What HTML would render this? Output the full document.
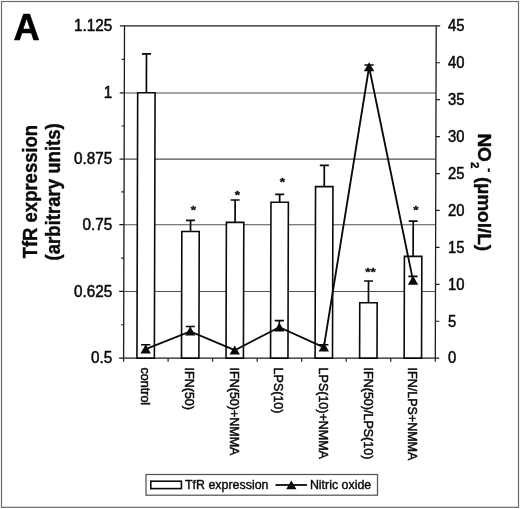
<!DOCTYPE html>
<html><head><meta charset="utf-8"><title>Figure A</title>
<style>html,body{margin:0;padding:0;background:#fff;}body{width:520px;height:509px;overflow:hidden;position:relative;}</style></head>
<body>
<svg width="520" height="509" viewBox="0 0 520 509" style="display:block;position:absolute;left:0;top:0;filter:blur(0.3px)">
<rect x="0" y="0" width="520" height="509" fill="#fff"/>
<rect x="1.5" y="1.5" width="517" height="505.8" fill="none" stroke="#6a6a6a" stroke-width="1.2"/>
<g transform="matrix(1,0,-0.0027,1,0.0698,0)">
<line x1="124.5" x2="436.2" y1="291.40" y2="291.40" stroke="#505050" stroke-width="1.05"/>
<line x1="124.5" x2="436.2" y1="224.70" y2="224.70" stroke="#505050" stroke-width="1.05"/>
<line x1="124.5" x2="436.2" y1="159.10" y2="159.10" stroke="#505050" stroke-width="1.05"/>
<line x1="124.5" x2="436.2" y1="92.90" y2="92.90" stroke="#505050" stroke-width="1.05"/>
<rect x="124.5" y="25.85" width="311.70" height="332.30" fill="none" stroke="#1c1c1c" stroke-width="1.3"/>
<line x1="119.9" x2="124.5" y1="358.15" y2="358.15" stroke="#1c1c1c" stroke-width="1.2"/>
<line x1="121.8" x2="124.5" y1="324.77" y2="324.77" stroke="#1c1c1c" stroke-width="1.2"/>
<line x1="119.9" x2="124.5" y1="291.40" y2="291.40" stroke="#1c1c1c" stroke-width="1.2"/>
<line x1="121.8" x2="124.5" y1="258.05" y2="258.05" stroke="#1c1c1c" stroke-width="1.2"/>
<line x1="119.9" x2="124.5" y1="224.70" y2="224.70" stroke="#1c1c1c" stroke-width="1.2"/>
<line x1="121.8" x2="124.5" y1="191.90" y2="191.90" stroke="#1c1c1c" stroke-width="1.2"/>
<line x1="119.9" x2="124.5" y1="159.10" y2="159.10" stroke="#1c1c1c" stroke-width="1.2"/>
<line x1="121.8" x2="124.5" y1="126.00" y2="126.00" stroke="#1c1c1c" stroke-width="1.2"/>
<line x1="119.9" x2="124.5" y1="92.90" y2="92.90" stroke="#1c1c1c" stroke-width="1.2"/>
<line x1="121.8" x2="124.5" y1="59.38" y2="59.38" stroke="#1c1c1c" stroke-width="1.2"/>
<line x1="119.9" x2="124.5" y1="25.85" y2="25.85" stroke="#1c1c1c" stroke-width="1.2"/>
<line x1="436.2" x2="440.2" y1="358.15" y2="358.15" stroke="#1c1c1c" stroke-width="1.2"/>
<line x1="436.2" x2="440.2" y1="321.23" y2="321.23" stroke="#1c1c1c" stroke-width="1.2"/>
<line x1="436.2" x2="440.2" y1="284.31" y2="284.31" stroke="#1c1c1c" stroke-width="1.2"/>
<line x1="436.2" x2="440.2" y1="247.38" y2="247.38" stroke="#1c1c1c" stroke-width="1.2"/>
<line x1="436.2" x2="440.2" y1="210.46" y2="210.46" stroke="#1c1c1c" stroke-width="1.2"/>
<line x1="436.2" x2="440.2" y1="173.54" y2="173.54" stroke="#1c1c1c" stroke-width="1.2"/>
<line x1="436.2" x2="440.2" y1="136.62" y2="136.62" stroke="#1c1c1c" stroke-width="1.2"/>
<line x1="436.2" x2="440.2" y1="99.69" y2="99.69" stroke="#1c1c1c" stroke-width="1.2"/>
<line x1="436.2" x2="440.2" y1="62.77" y2="62.77" stroke="#1c1c1c" stroke-width="1.2"/>
<line x1="436.2" x2="440.2" y1="25.85" y2="25.85" stroke="#1c1c1c" stroke-width="1.2"/>
<line x1="124.50" x2="124.50" y1="358.15" y2="361.75" stroke="#1c1c1c" stroke-width="1.2"/>
<line x1="169.03" x2="169.03" y1="358.15" y2="361.75" stroke="#1c1c1c" stroke-width="1.2"/>
<line x1="213.56" x2="213.56" y1="358.15" y2="361.75" stroke="#1c1c1c" stroke-width="1.2"/>
<line x1="258.09" x2="258.09" y1="358.15" y2="361.75" stroke="#1c1c1c" stroke-width="1.2"/>
<line x1="302.61" x2="302.61" y1="358.15" y2="361.75" stroke="#1c1c1c" stroke-width="1.2"/>
<line x1="347.14" x2="347.14" y1="358.15" y2="361.75" stroke="#1c1c1c" stroke-width="1.2"/>
<line x1="391.67" x2="391.67" y1="358.15" y2="361.75" stroke="#1c1c1c" stroke-width="1.2"/>
<line x1="436.20" x2="436.20" y1="358.15" y2="361.75" stroke="#1c1c1c" stroke-width="1.2"/>
<rect x="137.86" y="92.80" width="17.4" height="265.35" fill="#fff" stroke="#0a0a0a" stroke-width="1.6"/>
<line x1="146.56" x2="146.56" y1="53.80" y2="92.80" stroke="#0a0a0a" stroke-width="1.7"/>
<line x1="142.06" x2="151.06" y1="53.80" y2="53.80" stroke="#0a0a0a" stroke-width="1.7"/>
<rect x="182.39" y="231.50" width="17.4" height="126.65" fill="#fff" stroke="#0a0a0a" stroke-width="1.6"/>
<line x1="191.09" x2="191.09" y1="220.30" y2="231.50" stroke="#0a0a0a" stroke-width="1.7"/>
<line x1="186.59" x2="195.59" y1="220.30" y2="220.30" stroke="#0a0a0a" stroke-width="1.7"/>
<rect x="226.92" y="222.40" width="17.4" height="135.75" fill="#fff" stroke="#0a0a0a" stroke-width="1.6"/>
<line x1="235.62" x2="235.62" y1="200.00" y2="222.40" stroke="#0a0a0a" stroke-width="1.7"/>
<line x1="231.12" x2="240.12" y1="200.00" y2="200.00" stroke="#0a0a0a" stroke-width="1.7"/>
<rect x="271.45" y="202.30" width="17.4" height="155.85" fill="#fff" stroke="#0a0a0a" stroke-width="1.6"/>
<line x1="280.15" x2="280.15" y1="194.40" y2="202.30" stroke="#0a0a0a" stroke-width="1.7"/>
<line x1="275.65" x2="284.65" y1="194.40" y2="194.40" stroke="#0a0a0a" stroke-width="1.7"/>
<rect x="315.98" y="186.60" width="17.4" height="171.55" fill="#fff" stroke="#0a0a0a" stroke-width="1.6"/>
<line x1="324.68" x2="324.68" y1="165.40" y2="186.60" stroke="#0a0a0a" stroke-width="1.7"/>
<line x1="320.18" x2="329.18" y1="165.40" y2="165.40" stroke="#0a0a0a" stroke-width="1.7"/>
<rect x="360.51" y="302.80" width="17.4" height="55.35" fill="#fff" stroke="#0a0a0a" stroke-width="1.6"/>
<line x1="369.21" x2="369.21" y1="281.00" y2="302.80" stroke="#0a0a0a" stroke-width="1.7"/>
<line x1="364.71" x2="373.71" y1="281.00" y2="281.00" stroke="#0a0a0a" stroke-width="1.7"/>
<rect x="405.04" y="256.40" width="17.4" height="101.75" fill="#fff" stroke="#0a0a0a" stroke-width="1.6"/>
<line x1="413.74" x2="413.74" y1="221.20" y2="256.40" stroke="#0a0a0a" stroke-width="1.7"/>
<line x1="409.24" x2="418.24" y1="221.20" y2="221.20" stroke="#0a0a0a" stroke-width="1.7"/>
<polyline fill="none" stroke="#0a0a0a" stroke-width="1.85" stroke-linejoin="miter" points="146.56,349.2 191.09,331.4 235.62,350.2 280.15,327.2 324.68,347.4 369.21,67.0 413.74,280.6"/>
<line x1="141.96" x2="151.16" y1="344.80" y2="344.80" stroke="#0a0a0a" stroke-width="1.6"/>
<line x1="146.56" x2="146.56" y1="344.80" y2="349.20" stroke="#0a0a0a" stroke-width="1.6"/>
<polygon points="146.56,344.40 151.76,353.40 141.36,353.40" fill="#0a0a0a"/>
<line x1="186.49" x2="195.69" y1="326.50" y2="326.50" stroke="#0a0a0a" stroke-width="1.6"/>
<line x1="191.09" x2="191.09" y1="326.50" y2="331.40" stroke="#0a0a0a" stroke-width="1.6"/>
<polygon points="191.09,326.60 196.29,335.60 185.89,335.60" fill="#0a0a0a"/>
<polygon points="235.62,345.40 240.82,354.40 230.42,354.40" fill="#0a0a0a"/>
<line x1="275.55" x2="284.75" y1="320.60" y2="320.60" stroke="#0a0a0a" stroke-width="1.6"/>
<line x1="280.15" x2="280.15" y1="320.60" y2="327.20" stroke="#0a0a0a" stroke-width="1.6"/>
<polygon points="280.15,322.40 285.35,331.40 274.95,331.40" fill="#0a0a0a"/>
<line x1="320.08" x2="329.28" y1="344.70" y2="344.70" stroke="#0a0a0a" stroke-width="1.6"/>
<line x1="324.68" x2="324.68" y1="344.70" y2="347.40" stroke="#0a0a0a" stroke-width="1.6"/>
<polygon points="324.68,342.60 329.88,351.60 319.48,351.60" fill="#0a0a0a"/>
<line x1="364.61" x2="373.81" y1="65.00" y2="65.00" stroke="#0a0a0a" stroke-width="1.6"/>
<line x1="369.21" x2="369.21" y1="65.00" y2="67.00" stroke="#0a0a0a" stroke-width="1.6"/>
<polygon points="369.21,62.20 374.41,71.20 364.01,71.20" fill="#0a0a0a"/>
<line x1="409.14" x2="418.34" y1="276.40" y2="276.40" stroke="#0a0a0a" stroke-width="1.6"/>
<line x1="413.74" x2="413.74" y1="276.40" y2="280.60" stroke="#0a0a0a" stroke-width="1.6"/>
<polygon points="413.74,275.80 418.94,284.80 408.54,284.80" fill="#0a0a0a"/>
</g>
<text transform="translate(193.30,214.30) scale(1.17,1)" font-family="Liberation Sans, Arial, Helvetica, sans-serif" font-size="11.6" font-weight="bold" text-anchor="middle" fill="#0a0a0a" stroke="#0a0a0a" stroke-width="0.3" stroke-linejoin="round">*</text>
<text transform="translate(237.40,199.40) scale(1.17,1)" font-family="Liberation Sans, Arial, Helvetica, sans-serif" font-size="11.6" font-weight="bold" text-anchor="middle" fill="#0a0a0a" stroke="#0a0a0a" stroke-width="0.3" stroke-linejoin="round">*</text>
<text transform="translate(282.50,186.10) scale(1.17,1)" font-family="Liberation Sans, Arial, Helvetica, sans-serif" font-size="11.6" font-weight="bold" text-anchor="middle" fill="#0a0a0a" stroke="#0a0a0a" stroke-width="0.3" stroke-linejoin="round">*</text>
<text transform="translate(370.40,276.40) scale(1.17,1)" font-family="Liberation Sans, Arial, Helvetica, sans-serif" font-size="11.6" font-weight="bold" text-anchor="middle" fill="#0a0a0a" stroke="#0a0a0a" stroke-width="0.3" stroke-linejoin="round">**</text>
<text transform="translate(416.00,213.90) scale(1.17,1)" font-family="Liberation Sans, Arial, Helvetica, sans-serif" font-size="11.6" font-weight="bold" text-anchor="middle" fill="#0a0a0a" stroke="#0a0a0a" stroke-width="0.3" stroke-linejoin="round">*</text>
<text transform="translate(112.30,363.45) scale(0.98,1)" font-family="Liberation Sans, Arial, Helvetica, sans-serif" font-size="15.6" text-anchor="end" fill="#0a0a0a" stroke="#0a0a0a" stroke-width="0.5" stroke-linejoin="round">0.5</text>
<text transform="translate(112.30,296.70) scale(0.98,1)" font-family="Liberation Sans, Arial, Helvetica, sans-serif" font-size="15.6" text-anchor="end" fill="#0a0a0a" stroke="#0a0a0a" stroke-width="0.5" stroke-linejoin="round">0.625</text>
<text transform="translate(112.30,230.00) scale(0.98,1)" font-family="Liberation Sans, Arial, Helvetica, sans-serif" font-size="15.6" text-anchor="end" fill="#0a0a0a" stroke="#0a0a0a" stroke-width="0.5" stroke-linejoin="round">0.75</text>
<text transform="translate(112.30,164.40) scale(0.98,1)" font-family="Liberation Sans, Arial, Helvetica, sans-serif" font-size="15.6" text-anchor="end" fill="#0a0a0a" stroke="#0a0a0a" stroke-width="0.5" stroke-linejoin="round">0.875</text>
<text transform="translate(112.30,98.20) scale(0.98,1)" font-family="Liberation Sans, Arial, Helvetica, sans-serif" font-size="15.6" text-anchor="end" fill="#0a0a0a" stroke="#0a0a0a" stroke-width="0.5" stroke-linejoin="round">1</text>
<text transform="translate(112.30,31.15) scale(0.98,1)" font-family="Liberation Sans, Arial, Helvetica, sans-serif" font-size="15.6" text-anchor="end" fill="#0a0a0a" stroke="#0a0a0a" stroke-width="0.5" stroke-linejoin="round">1.125</text>
<text transform="translate(448.00,363.45) scale(0.95,1)" font-family="Liberation Sans, Arial, Helvetica, sans-serif" font-size="15.6" text-anchor="start" fill="#0a0a0a" stroke="#0a0a0a" stroke-width="0.5" stroke-linejoin="round">0</text>
<text transform="translate(448.00,326.53) scale(0.95,1)" font-family="Liberation Sans, Arial, Helvetica, sans-serif" font-size="15.6" text-anchor="start" fill="#0a0a0a" stroke="#0a0a0a" stroke-width="0.5" stroke-linejoin="round">5</text>
<text transform="translate(448.00,289.61) scale(0.95,1)" font-family="Liberation Sans, Arial, Helvetica, sans-serif" font-size="15.6" text-anchor="start" fill="#0a0a0a" stroke="#0a0a0a" stroke-width="0.5" stroke-linejoin="round">10</text>
<text transform="translate(448.00,252.68) scale(0.95,1)" font-family="Liberation Sans, Arial, Helvetica, sans-serif" font-size="15.6" text-anchor="start" fill="#0a0a0a" stroke="#0a0a0a" stroke-width="0.5" stroke-linejoin="round">15</text>
<text transform="translate(448.00,215.76) scale(0.95,1)" font-family="Liberation Sans, Arial, Helvetica, sans-serif" font-size="15.6" text-anchor="start" fill="#0a0a0a" stroke="#0a0a0a" stroke-width="0.5" stroke-linejoin="round">20</text>
<text transform="translate(448.00,178.84) scale(0.95,1)" font-family="Liberation Sans, Arial, Helvetica, sans-serif" font-size="15.6" text-anchor="start" fill="#0a0a0a" stroke="#0a0a0a" stroke-width="0.5" stroke-linejoin="round">25</text>
<text transform="translate(448.00,141.92) scale(0.95,1)" font-family="Liberation Sans, Arial, Helvetica, sans-serif" font-size="15.6" text-anchor="start" fill="#0a0a0a" stroke="#0a0a0a" stroke-width="0.5" stroke-linejoin="round">30</text>
<text transform="translate(448.00,104.99) scale(0.95,1)" font-family="Liberation Sans, Arial, Helvetica, sans-serif" font-size="15.6" text-anchor="start" fill="#0a0a0a" stroke="#0a0a0a" stroke-width="0.5" stroke-linejoin="round">35</text>
<text transform="translate(448.00,68.07) scale(0.95,1)" font-family="Liberation Sans, Arial, Helvetica, sans-serif" font-size="15.6" text-anchor="start" fill="#0a0a0a" stroke="#0a0a0a" stroke-width="0.5" stroke-linejoin="round">40</text>
<text transform="translate(448.00,31.15) scale(0.95,1)" font-family="Liberation Sans, Arial, Helvetica, sans-serif" font-size="15.6" text-anchor="start" fill="#0a0a0a" stroke="#0a0a0a" stroke-width="0.5" stroke-linejoin="round">45</text>
<text transform="translate(13.60,39.65) scale(0.965,1)" font-family="Liberation Sans, Arial, Helvetica, sans-serif" font-size="37.7" font-weight="bold" text-anchor="start" fill="#000" stroke="#000" stroke-width="0.6" stroke-linejoin="round">A</text>
<text transform="translate(36.60,191.60) rotate(-90) scale(0.92,1)" font-family="Liberation Sans, Arial, Helvetica, sans-serif" font-size="20.1" font-weight="bold" text-anchor="middle" fill="#0a0a0a" stroke="#0a0a0a" stroke-width="0.4" stroke-linejoin="round">TfR expression</text>
<text transform="translate(60.30,191.80) rotate(-90) scale(0.938,1)" font-family="Liberation Sans, Arial, Helvetica, sans-serif" font-size="19.8" font-weight="bold" text-anchor="middle" fill="#0a0a0a" stroke="#0a0a0a" stroke-width="0.4" stroke-linejoin="round">(arbitrary units)</text>
<text transform="translate(477.70,133.40) rotate(90)" font-family="Liberation Sans, Arial, Helvetica, sans-serif" font-size="19" font-weight="bold" text-anchor="start" fill="#0a0a0a" stroke="#0a0a0a" stroke-width="0.4" stroke-linejoin="round">NO<tspan font-size="11.5" dy="7.0" dx="0">2</tspan><tspan font-size="12" dy="-14.2" dx="0">-</tspan><tspan dy="7.2" dx="-0.7"> (µmol/L)</tspan></text>
<text transform="translate(140.86,367.60) rotate(90)" font-family="Liberation Sans, Arial, Helvetica, sans-serif" font-size="12.5" text-anchor="start" fill="#0a0a0a" stroke="#0a0a0a" stroke-width="0.5" stroke-linejoin="round">control</text>
<text transform="translate(185.39,367.60) rotate(90)" font-family="Liberation Sans, Arial, Helvetica, sans-serif" font-size="12.5" text-anchor="start" fill="#0a0a0a" stroke="#0a0a0a" stroke-width="0.5" stroke-linejoin="round">IFN(50)</text>
<text transform="translate(229.92,367.60) rotate(90)" font-family="Liberation Sans, Arial, Helvetica, sans-serif" font-size="12.5" text-anchor="start" fill="#0a0a0a" stroke="#0a0a0a" stroke-width="0.5" stroke-linejoin="round">IFN(50)+NMMA</text>
<text transform="translate(274.45,367.60) rotate(90)" font-family="Liberation Sans, Arial, Helvetica, sans-serif" font-size="12.5" text-anchor="start" fill="#0a0a0a" stroke="#0a0a0a" stroke-width="0.5" stroke-linejoin="round">LPS(10)</text>
<text transform="translate(318.98,367.60) rotate(90)" font-family="Liberation Sans, Arial, Helvetica, sans-serif" font-size="12.5" text-anchor="start" fill="#0a0a0a" stroke="#0a0a0a" stroke-width="0.5" stroke-linejoin="round">LPS(10)+NMMA</text>
<text transform="translate(363.51,367.60) rotate(90)" font-family="Liberation Sans, Arial, Helvetica, sans-serif" font-size="12.5" text-anchor="start" fill="#0a0a0a" stroke="#0a0a0a" stroke-width="0.5" stroke-linejoin="round">IFN(50)/LPS(10)</text>
<text transform="translate(408.04,367.60) rotate(90)" font-family="Liberation Sans, Arial, Helvetica, sans-serif" font-size="12.5" text-anchor="start" fill="#0a0a0a" stroke="#0a0a0a" stroke-width="0.5" stroke-linejoin="round">IFN/LPS+NMMA</text>
<rect x="146" y="474.5" width="231.5" height="20.7" fill="#fff" stroke="#555" stroke-width="1.25"/>
<rect x="150.8" y="481.2" width="30.6" height="7.4" fill="#fff" stroke="#0a0a0a" stroke-width="1.6"/>
<text transform="translate(184.90,489.30)" font-family="Liberation Sans, Arial, Helvetica, sans-serif" font-size="12.45" text-anchor="start" fill="#0a0a0a" stroke="#0a0a0a" stroke-width="0.4" stroke-linejoin="round">TfR expression</text>
<line x1="275.5" x2="307" y1="485" y2="485" stroke="#0a0a0a" stroke-width="1.8"/>
<polygon points="291.3,480.4 296.4,489.2 286.2,489.2" fill="#0a0a0a"/>
<text transform="translate(309.90,489.30)" font-family="Liberation Sans, Arial, Helvetica, sans-serif" font-size="12.4" text-anchor="start" fill="#0a0a0a" stroke="#0a0a0a" stroke-width="0.4" stroke-linejoin="round">Nitric oxide</text>
</svg>
</body></html>
